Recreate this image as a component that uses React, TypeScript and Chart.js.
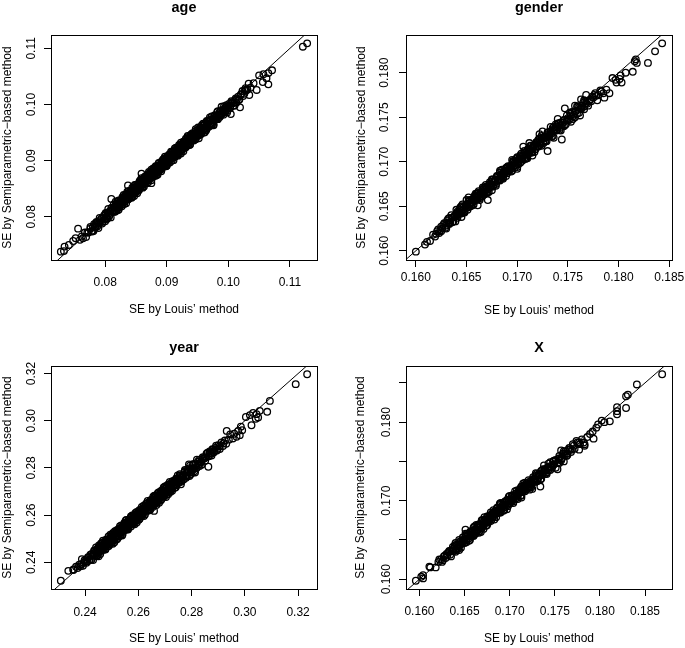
import React, { useEffect, useRef } from 'react';
import { Chart, registerables } from 'chart.js';

Chart.register(...registerables);

const FONT = '"Liberation Sans", Arial, Helvetica, sans-serif';
Chart.defaults.font.family = FONT;
Chart.defaults.font.size = 12;
Chart.defaults.color = '#000';

// ---------- data (SE by Louis' method, SE by Semiparametric-based method) ----------
const AGE_POINTS: number[][] = [
  [0.0728,0.0738],[0.0733,0.0739],[0.0734,0.0747],[0.0741,0.0750],[0.0748,0.0757],[0.0752,0.0762],[0.0756,0.0779],[0.0759,0.0759],
  [0.0762,0.0765],[0.0764,0.0762],[0.0767,0.0772],[0.0769,0.0764],[0.0771,0.0772],[0.0773,0.0772],[0.0776,0.0782],[0.0778,0.0775],[0.0780,0.0782],[0.0781,0.0775],[0.0783,0.0783],[0.0785,0.0789],[0.0787,0.0783],[0.0788,0.0790],[0.0790,0.0789],
  [0.0791,0.0798],[0.0793,0.0791],[0.0794,0.0797],[0.0796,0.0791],[0.0797,0.0798],[0.0799,0.0796],[0.0800,0.0805],[0.0802,0.0801],[0.0803,0.0796],[0.0804,0.0808],[0.0806,0.0806],[0.0807,0.0803],[0.0809,0.0811],[0.0810,0.0816],[0.0812,0.0810],[0.0813,0.0814],[0.0814,0.0809],[0.0816,0.0819],[0.0817,0.0816],[0.0818,0.0823],[0.0820,0.0817],[0.0821,0.0821],[0.0823,0.0817],[0.0824,0.0826],[0.0825,0.0829],[0.0827,0.0830],[0.0828,0.0826],[0.0829,0.0834],[0.0831,0.0826],[0.0832,0.0833],[0.0833,0.0832],[0.0835,0.0841],[0.0836,0.0833],[0.0837,0.0839],[0.0839,0.0833],
  [0.0789,0.0780],[0.0810,0.0832],[0.0837,0.0856],[0.0859,0.0877],[0.0875,0.0860],
  [0.0840,0.0840],[0.0841,0.0845],[0.0842,0.0838],[0.0843,0.0845],[0.0845,0.0844],[0.0846,0.0853],[0.0847,0.0845],[0.0848,0.0851],[0.0849,0.0844],[0.0850,0.0851],[0.0851,0.0848],[0.0853,0.0858],[0.0854,0.0853],[0.0855,0.0848],[0.0856,0.0860],[0.0857,0.0857],[0.0858,0.0854],[0.0860,0.0862],[0.0861,0.0867],[0.0862,0.0860],[0.0863,0.0864],[0.0864,0.0859],[0.0866,0.0869],[0.0867,0.0866],[0.0868,0.0873],[0.0869,0.0866],[0.0870,0.0870],[0.0871,0.0865],[0.0873,0.0875],[0.0874,0.0878],
  [0.0875,0.0878],[0.0876,0.0874],[0.0877,0.0882],[0.0878,0.0873],[0.0879,0.0880],[0.0881,0.0880],[0.0882,0.0888],[0.0883,0.0880],[0.0884,0.0886],[0.0885,0.0879],[0.0886,0.0886],[0.0887,0.0891],[0.0889,0.0885],[0.0890,0.0892],[0.0891,0.0890],[0.0892,0.0899],[0.0893,0.0891],[0.0894,0.0897],[0.0895,0.0890],[0.0897,0.0898],[0.0898,0.0895],[0.0899,0.0904],[0.0900,0.0899],[0.0901,0.0894],[0.0902,0.0906],[0.0903,0.0903],[0.0904,0.0900],[0.0906,0.0908],[0.0907,0.0913],[0.0908,0.0906],
  [0.0909,0.0910],[0.0910,0.0905],[0.0911,0.0914],[0.0912,0.0911],[0.0914,0.0919],[0.0915,0.0912],[0.0916,0.0916],[0.0917,0.0911],[0.0918,0.0920],[0.0919,0.0923],[0.0920,0.0923],[0.0922,0.0920],[0.0923,0.0928],[0.0924,0.0919],[0.0925,0.0926],[0.0926,0.0925],[0.0927,0.0933],[0.0928,0.0925],[0.0930,0.0932],[0.0931,0.0925],[0.0932,0.0932],[0.0933,0.0937],[0.0934,0.0930],[0.0935,0.0937],[0.0937,0.0936],[0.0938,0.0945],[0.0939,0.0937],[0.0940,0.0943],[0.0941,0.0936],[0.0942,0.0943],
  [0.0944,0.0939],[0.0945,0.0948],[0.0946,0.0943],[0.0947,0.0938],[0.0948,0.0950],[0.0950,0.0948],[0.0951,0.0945],[0.0952,0.0952],[0.0953,0.0957],[0.0955,0.0951],[0.0956,0.0955],[0.0957,0.0950],[0.0958,0.0959],[0.0960,0.0957],[0.0961,0.0964],[0.0962,0.0957],[0.0964,0.0962],[0.0965,0.0957],[0.0966,0.0966],[0.0968,0.0970],[0.0969,0.0970],
  [0.0971,0.0966],[0.0972,0.0974],[0.0974,0.0966],[0.0975,0.0973],[0.0977,0.0973],[0.0978,0.0981],[0.0980,0.0974],[0.0981,0.0980],[0.0983,0.0974],[0.0985,0.0982],[0.0986,0.0987],[0.0988,0.0981],[0.0990,0.0989],[0.0991,0.0987],[0.0993,0.0997],[0.0995,0.0989],[0.0997,0.0996],[0.0999,0.0990],[0.1001,0.0998],[0.1003,0.0996],[0.1005,0.1006],[0.1007,0.1002],[0.1010,0.0998],[0.1012,0.1011],[0.1014,0.1009],[0.1017,0.1008],[0.1020,0.1017],[0.1023,0.1024],[0.1026,0.1019],[0.1029,0.1025],
  [0.1004,0.0983],[0.1019,0.0995],[0.1028,0.1029],[0.1031,0.1027],[0.1033,0.1037],[0.1034,0.1017],[0.1036,0.1030],[0.1041,0.1038],[0.1046,0.1026],[0.1050,0.1052],[0.1056,0.1040],[0.1057,0.1054],[0.1062,0.1047],[0.1065,0.1056],[0.1065,0.1036],[0.1071,0.1061],[0.1121,0.1103],[0.1128,0.1109],
];

const AGE_POINTS_B: number[][] = [
  [0.0800,0.0792],[0.0801,0.0807],[0.0803,0.0800],[0.0805,0.0814],[0.0806,0.0800],[0.0808,0.0810],[0.0809,0.0799],[0.0811,0.0816],[0.0812,0.0811],[0.0814,0.0822],[0.0815,0.0810],[0.0817,0.0827],[0.0818,0.0811],[0.0819,0.0822],[0.0821,0.0812],[0.0822,0.0829],[0.0824,0.0822],[0.0825,0.0829],[0.0827,0.0819],[0.0828,0.0829],[0.0830,0.0839],[0.0831,0.0827],[0.0833,0.0839],[0.0834,0.0824],[0.0836,0.0838],[0.0837,0.0831],[0.0838,0.0846],[0.0840,0.0837],[0.0841,0.0846],[0.0843,0.0834],
  [0.0844,0.0836],[0.0846,0.0852],[0.0847,0.0844],[0.0848,0.0857],[0.0850,0.0844],[0.0851,0.0853],[0.0852,0.0842],[0.0854,0.0859],[0.0855,0.0854],[0.0856,0.0864],[0.0858,0.0853],[0.0859,0.0869],[0.0860,0.0853],[0.0862,0.0865],[0.0863,0.0854],[0.0864,0.0871],[0.0866,0.0864],[0.0867,0.0871],[0.0868,0.0860],[0.0869,0.0870],[0.0871,0.0880],[0.0872,0.0868],[0.0873,0.0879],[0.0875,0.0865],[0.0876,0.0878],[0.0877,0.0871],[0.0878,0.0886],[0.0880,0.0877],[0.0881,0.0886],[0.0882,0.0873],
  [0.0883,0.0875],[0.0885,0.0891],[0.0886,0.0883],[0.0887,0.0896],[0.0888,0.0882],[0.0889,0.0891],[0.0891,0.0881],[0.0892,0.0897],[0.0893,0.0892],[0.0894,0.0902],[0.0895,0.0890],[0.0897,0.0907],[0.0898,0.0891],[0.0899,0.0902],[0.0900,0.0891],[0.0901,0.0908],[0.0903,0.0901],[0.0904,0.0908],[0.0905,0.0897],[0.0906,0.0907],[0.0907,0.0916],[0.0909,0.0905],[0.0910,0.0916],[0.0911,0.0901],[0.0912,0.0914],[0.0913,0.0907],[0.0915,0.0923],[0.0916,0.0913],[0.0917,0.0922],[0.0918,0.0909],
  [0.0920,0.0912],[0.0921,0.0927],[0.0922,0.0919],[0.0923,0.0932],[0.0925,0.0919],[0.0926,0.0928],[0.0927,0.0917],[0.0929,0.0934],[0.0930,0.0929],[0.0931,0.0939],[0.0933,0.0928],[0.0934,0.0944],[0.0935,0.0928],[0.0937,0.0940],[0.0938,0.0929],[0.0940,0.0947],[0.0941,0.0939],[0.0943,0.0947],[0.0944,0.0936],[0.0946,0.0947],[0.0947,0.0956],[0.0949,0.0945],[0.0950,0.0954],[0.0952,0.0940],[0.0954,0.0954],[0.0955,0.0947],[0.0957,0.0963],[0.0959,0.0954],[0.0960,0.0963],[0.0962,0.0951],
  [0.0964,0.0954],[0.0966,0.0970],[0.0968,0.0963],[0.0970,0.0977],[0.0972,0.0964],[0.0974,0.0974],[0.0976,0.0963],[0.0978,0.0980],[0.0980,0.0976],[0.0983,0.0988],[0.0986,0.0978],[0.0989,0.0996],[0.0992,0.0982],[0.0995,0.0995],[0.0998,0.0986],
];

const AGE_POINTS_C: number[][] = [
  [0.0815,0.0817],[0.0816,0.0809],[0.0817,0.0822],[0.0819,0.0816],[0.0820,0.0828],[0.0821,0.0820],[0.0822,0.0813],[0.0824,0.0828],[0.0825,0.0825],[0.0826,0.0821],[0.0828,0.0835],[0.0829,0.0827],[0.0830,0.0833],[0.0831,0.0823],[0.0833,0.0839],[0.0834,0.0835],[0.0835,0.0831],[0.0836,0.0845],[0.0838,0.0832],[0.0839,0.0838],
  [0.0840,0.0845],[0.0842,0.0835],[0.0843,0.0845],[0.0844,0.0852],[0.0845,0.0842],[0.0847,0.0837],[0.0848,0.0852],[0.0849,0.0847],[0.0850,0.0857],[0.0852,0.0847],[0.0853,0.0855],[0.0854,0.0847],[0.0856,0.0861],[0.0857,0.0854],[0.0858,0.0866],[0.0859,0.0858],[0.0861,0.0852],[0.0862,0.0866],[0.0863,0.0863],[0.0864,0.0859],
  [0.0866,0.0873],[0.0867,0.0865],[0.0868,0.0871],[0.0870,0.0862],[0.0871,0.0877],[0.0872,0.0873],[0.0873,0.0869],[0.0875,0.0884],[0.0876,0.0870],[0.0877,0.0876],[0.0878,0.0883],[0.0880,0.0873],[0.0881,0.0883],[0.0882,0.0890],[0.0884,0.0881],[0.0885,0.0875],[0.0886,0.0890],[0.0887,0.0885],[0.0889,0.0896],[0.0890,0.0885],
  [0.0891,0.0893],[0.0892,0.0885],[0.0894,0.0899],[0.0895,0.0892],[0.0896,0.0904],[0.0898,0.0897],[0.0899,0.0890],[0.0900,0.0904],[0.0901,0.0901],[0.0903,0.0898],[0.0904,0.0911],[0.0905,0.0903],[0.0906,0.0909],[0.0908,0.0900],[0.0909,0.0915],[0.0910,0.0911],[0.0912,0.0908],[0.0913,0.0922],[0.0914,0.0908],[0.0915,0.0914],
  [0.0917,0.0922],[0.0918,0.0911],[0.0919,0.0921],[0.0920,0.0928],[0.0922,0.0919],[0.0923,0.0913],[0.0924,0.0928],[0.0926,0.0924],[0.0927,0.0934],[0.0928,0.0923],[0.0929,0.0931],[0.0931,0.0924],[0.0932,0.0937],[0.0933,0.0930],[0.0934,0.0942],[0.0936,0.0935],[0.0937,0.0928],[0.0938,0.0942],[0.0940,0.0940],[0.0941,0.0936],
  [0.0942,0.0949],[0.0943,0.0941],[0.0945,0.0948],[0.0946,0.0938],[0.0947,0.0953],[0.0948,0.0949],[0.0950,0.0945],[0.0951,0.0959],[0.0952,0.0945],[0.0954,0.0952],[0.0955,0.0959],[0.0956,0.0948],[0.0957,0.0958],[0.0959,0.0966],[0.0960,0.0956],[0.0961,0.0950],[0.0962,0.0965],[0.0964,0.0961],[0.0965,0.0971],[0.0966,0.0960],
  [0.0968,0.0969],[0.0969,0.0961],[0.0970,0.0973],[0.0972,0.0967],[0.0973,0.0979],[0.0975,0.0972],[0.0976,0.0965],[0.0978,0.0980],[0.0979,0.0977],[0.0981,0.0974],[0.0982,0.0987],[0.0984,0.0980],
];

const AGE_POINTS_D: number[][] = [
  [0.0986,0.0983],[0.0988,0.0990],[0.0990,0.0984],[0.0993,0.0991],[0.0995,0.0986],[0.0997,0.0999],[0.0999,0.0993],[0.1001,0.1001],[0.1003,0.0994],[0.1006,0.1004],[0.1008,0.0998],[0.1011,0.1008],[0.1013,0.1003],[0.1016,0.1014],[0.1018,0.1009],[0.1021,0.1019],[0.1024,0.1015],[0.1027,0.1026],
  [0.0776,0.0779],[0.0779,0.0774],[0.0782,0.0787],[0.0784,0.0781],[0.0786,0.0791],[0.0789,0.0786],[0.0792,0.0794],[0.0795,0.0788],[0.0798,0.0802],[0.0801,0.0797],
];

const GENDER_POINTS: number[][] = [
  [0.1600,0.1599],[0.1609,0.1607],[0.1611,0.1610],[0.1614,0.1611],[0.1617,0.1618],[0.1619,0.1616],[0.1621,0.1622],[0.1623,0.1620],[0.1624,0.1623],
  [0.1625,0.1627],[0.1626,0.1625],[0.1628,0.1631],[0.1629,0.1626],[0.1630,0.1631],[0.1632,0.1631],[0.1633,0.1637],[0.1634,0.1632],[0.1636,0.1637],[0.1637,0.1633],[0.1638,0.1638],[0.1640,0.1642],[0.1641,0.1639],[0.1642,0.1643],[0.1643,0.1642],[0.1645,0.1649],[0.1646,0.1645],[0.1647,0.1649],[0.1648,0.1645],[0.1650,0.1651],
  [0.1651,0.1649],[0.1652,0.1655],[0.1653,0.1652],[0.1654,0.1650],[0.1655,0.1657],[0.1657,0.1657],[0.1658,0.1656],[0.1659,0.1660],[0.1660,0.1664],[0.1661,0.1660],[0.1662,0.1663],[0.1664,0.1661],[0.1665,0.1667],[0.1666,0.1665],[0.1667,0.1670],[0.1667,0.1665],[0.1668,0.1668],[0.1669,0.1665],[0.1670,0.1671],[0.1672,0.1674],[0.1673,0.1675],[0.1674,0.1673],[0.1675,0.1678],[0.1676,0.1673],[0.1677,0.1678],[0.1678,0.1677],[0.1680,0.1684],[0.1681,0.1679],[0.1682,0.1683],[0.1683,0.1679],[0.1684,0.1684],[0.1684,0.1686],[0.1685,0.1683],[0.1686,0.1687],[0.1687,0.1686],[0.1689,0.1693],[0.1690,0.1689],[0.1691,0.1693],[0.1692,0.1689],[0.1693,0.1694],[0.1694,0.1692],[0.1696,0.1699],[0.1697,0.1696],[0.1698,0.1694],[0.1699,0.1701],[0.1700,0.1700],
  [0.1701,0.1699],[0.1702,0.1703],[0.1703,0.1707],[0.1704,0.1703],[0.1706,0.1707],[0.1707,0.1704],[0.1708,0.1710],[0.1709,0.1708],[0.1710,0.1713],[0.1711,0.1709],[0.1713,0.1713],[0.1714,0.1710],[0.1715,0.1716],[0.1716,0.1718],[0.1717,0.1719],[0.1718,0.1717],[0.1720,0.1722],[0.1721,0.1717],[0.1722,0.1722],[0.1723,0.1721],[0.1724,0.1727],[0.1726,0.1723],[0.1727,0.1727],[0.1728,0.1723],[0.1729,0.1728],[0.1730,0.1731],[0.1732,0.1729],[0.1733,0.1733],[0.1734,0.1732],[0.1735,0.1738],[0.1737,0.1735],[0.1738,0.1739],[0.1739,0.1735],[0.1740,0.1739],[0.1742,0.1738],[0.1743,0.1744],[0.1744,0.1741],[0.1746,0.1740],[0.1747,0.1747],[0.1749,0.1747],
  [0.1751,0.1747],[0.1753,0.1752],[0.1754,0.1756],[0.1756,0.1753],[0.1758,0.1757],[0.1759,0.1754],[0.1761,0.1761],[0.1763,0.1760],[0.1765,0.1766],[0.1766,0.1762],[0.1768,0.1766],[0.1770,0.1763],[0.1772,0.1770],[0.1774,0.1773],[0.1776,0.1775],[0.1778,0.1774],
  [0.1640,0.1646],[0.1645,0.1638],[0.1650,0.1657],[0.1652,0.1660],[0.1661,0.1651],[0.1671,0.1657],[0.1675,0.1668],[0.1683,0.1690],[0.1695,0.1702],[0.1700,0.1692],[0.1706,0.1717],[0.1712,0.1721],[0.1715,0.1707],[0.1722,0.1731],[0.1725,0.1734],[0.1730,0.1712],[0.1733,0.1739],[0.1736,0.1727],[0.1740,0.1748],[0.1744,0.1725],[0.1747,0.1760],[0.1753,0.1745],[0.1757,0.1763],[0.1762,0.1752],[0.1763,0.1770],[0.1768,0.1775],
  [0.1779,0.1769],[0.1783,0.1779],[0.1785,0.1777],[0.1786,0.1772],[0.1788,0.1781],[0.1791,0.1777],[0.1794,0.1794],[0.1797,0.1792],[0.1798,0.1789],[0.1801,0.1793],[0.1802,0.1797],[0.1803,0.1789],[0.1807,0.1800],[0.1814,0.1801],[0.1816,0.1813],[0.1817,0.1815],[0.1818,0.1811],[0.1829,0.1811],[0.1836,0.1824],[0.1843,0.1833],
];

const GENDER_POINTS_B: number[][] = [
  [0.1630,0.1625],[0.1632,0.1636],[0.1633,0.1631],[0.1635,0.1640],[0.1636,0.1632],[0.1638,0.1639],[0.1639,0.1633],[0.1641,0.1644],[0.1642,0.1641],[0.1644,0.1649],[0.1645,0.1642],[0.1646,0.1652],[0.1648,0.1644],[0.1649,0.1651],[0.1651,0.1646],[0.1652,0.1656],[0.1653,0.1652],[0.1655,0.1657],[0.1656,0.1651],[0.1657,0.1658],
  [0.1659,0.1664],[0.1660,0.1658],[0.1661,0.1665],[0.1663,0.1657],[0.1664,0.1665],[0.1665,0.1661],[0.1666,0.1671],[0.1668,0.1666],[0.1669,0.1672],[0.1670,0.1665],[0.1671,0.1666],[0.1673,0.1677],[0.1674,0.1672],[0.1675,0.1680],[0.1676,0.1672],[0.1678,0.1679],[0.1679,0.1673],[0.1680,0.1683],[0.1681,0.1680],[0.1683,0.1688],
  [0.1684,0.1681],[0.1685,0.1691],[0.1686,0.1682],[0.1688,0.1690],[0.1689,0.1684],[0.1690,0.1694],[0.1691,0.1690],[0.1693,0.1695],[0.1694,0.1689],[0.1695,0.1696],[0.1696,0.1701],[0.1698,0.1696],[0.1699,0.1703],[0.1700,0.1694],[0.1702,0.1703],[0.1703,0.1699],[0.1704,0.1709],[0.1705,0.1703],[0.1707,0.1710],[0.1708,0.1703],
  [0.1709,0.1704],[0.1711,0.1715],[0.1712,0.1710],[0.1713,0.1718],[0.1715,0.1711],[0.1716,0.1717],[0.1717,0.1711],[0.1719,0.1722],[0.1720,0.1718],[0.1721,0.1725],[0.1723,0.1719],[0.1724,0.1729],[0.1726,0.1721],[0.1727,0.1728],[0.1729,0.1723],[0.1730,0.1733],[0.1732,0.1730],[0.1733,0.1734],[0.1735,0.1729],[0.1736,0.1736],
  [0.1738,0.1742],[0.1739,0.1736],[0.1741,0.1743],[0.1743,0.1735],[0.1745,0.1744],[0.1747,0.1741],[0.1749,0.1752],[0.1751,0.1747],[0.1753,0.1754],[0.1755,0.1748],[0.1757,0.1750],[0.1760,0.1762],[0.1763,0.1759],[0.1766,0.1769],
];

const GENDER_POINTS_C: number[][] = [
  [0.1640,0.1641],[0.1641,0.1637],[0.1643,0.1646],[0.1644,0.1642],[0.1645,0.1650],[0.1647,0.1646],[0.1648,0.1643],[0.1649,0.1651],[0.1650,0.1650],[0.1652,0.1649],[0.1653,0.1657],[0.1654,0.1653],[0.1656,0.1658],[0.1657,0.1652],[0.1658,0.1662],[0.1659,0.1660],[0.1661,0.1659],[0.1662,0.1667],[0.1663,0.1659],[0.1664,0.1663],
  [0.1666,0.1669],[0.1667,0.1663],[0.1668,0.1669],[0.1669,0.1674],[0.1671,0.1669],[0.1672,0.1666],[0.1673,0.1675],[0.1674,0.1673],[0.1676,0.1680],[0.1677,0.1674],[0.1678,0.1679],[0.1679,0.1675],[0.1681,0.1684],[0.1682,0.1680],[0.1683,0.1688],[0.1685,0.1684],[0.1686,0.1681],[0.1687,0.1689],[0.1688,0.1688],[0.1690,0.1687],
  [0.1691,0.1695],[0.1692,0.1691],[0.1693,0.1695],[0.1695,0.1690],[0.1696,0.1700],[0.1697,0.1698],[0.1698,0.1696],[0.1700,0.1705],[0.1701,0.1697],[0.1702,0.1701],[0.1703,0.1706],[0.1705,0.1701],[0.1706,0.1707],[0.1707,0.1712],[0.1709,0.1707],[0.1710,0.1704],[0.1711,0.1713],[0.1712,0.1711],[0.1714,0.1718],[0.1715,0.1712],
  [0.1716,0.1717],[0.1718,0.1714],[0.1719,0.1722],[0.1720,0.1717],[0.1722,0.1726],[0.1723,0.1721],[0.1724,0.1718],[0.1726,0.1727],[0.1727,0.1726],[0.1728,0.1724],[0.1730,0.1733],[0.1731,0.1729],[0.1733,0.1734],[0.1734,0.1728],[0.1736,0.1739],[0.1737,0.1737],[0.1739,0.1736],[0.1740,0.1743],[0.1742,0.1736],[0.1744,0.1741],
  [0.1746,0.1747],[0.1748,0.1742],[0.1750,0.1749],[0.1752,0.1755],[0.1755,0.1751],
];

const GENDER_POINTS_D: number[][] = [
  [0.1757,0.1756],[0.1759,0.1762],[0.1761,0.1755],[0.1762,0.1760],[0.1764,0.1763],[0.1766,0.1759],[0.1767,0.1768],[0.1769,0.1765],[0.1771,0.1768],[0.1773,0.1768],[0.1775,0.1772],[0.1777,0.1777],[0.1780,0.1775],[0.1782,0.1780],
  [0.1620,0.1619],[0.1622,0.1624],[0.1625,0.1622],[0.1627,0.1629],[0.1629,0.1628],[0.1631,0.1634],[0.1633,0.1630],[0.1635,0.1637],
];

const YEAR_POINTS: number[][] = [
  [0.2309,0.2322],[0.2337,0.2364],[0.2356,0.2370],[0.2356,0.2367],[0.2366,0.2381],[0.2372,0.2376],[0.2378,0.2390],[0.2383,0.2383],[0.2388,0.2413],[0.2395,0.2398],[0.2400,0.2403],[0.2404,0.2412],[0.2409,0.2404],
  [0.2412,0.2419],[0.2416,0.2411],[0.2420,0.2432],[0.2424,0.2412],[0.2428,0.2430],[0.2431,0.2429],[0.2435,0.2450],[0.2438,0.2431],[0.2442,0.2447],[0.2446,0.2431],[0.2449,0.2449],
  [0.2452,0.2462],[0.2455,0.2445],[0.2458,0.2463],[0.2461,0.2459],[0.2463,0.2480],[0.2466,0.2461],[0.2469,0.2476],[0.2472,0.2460],[0.2474,0.2476],[0.2477,0.2470],[0.2480,0.2492],[0.2483,0.2481],[0.2485,0.2468],[0.2488,0.2498],[0.2491,0.2491],[0.2494,0.2484],[0.2496,0.2501],[0.2499,0.2514],[0.2502,0.2497],[0.2505,0.2507],[0.2507,0.2495],[0.2510,0.2517],[0.2513,0.2511],[0.2516,0.2528],[0.2518,0.2511],[0.2521,0.2521],[0.2524,0.2509],[0.2527,0.2532],[0.2529,0.2539],[0.2532,0.2539],[0.2535,0.2530],[0.2538,0.2550],[0.2540,0.2528],[0.2543,0.2545],[0.2546,0.2544],[0.2549,0.2564],[0.2551,0.2544],[0.2554,0.2559],[0.2557,0.2542],[0.2560,0.2560],[0.2562,0.2572],[0.2565,0.2555],[0.2568,0.2573],[0.2571,0.2569],[0.2573,0.2590],[0.2576,0.2571],[0.2579,0.2586],[0.2582,0.2570],[0.2584,0.2586],[0.2587,0.2580],[0.2590,0.2602],[0.2593,0.2591],[0.2595,0.2578],[0.2598,0.2608],
  [0.2600,0.2600],[0.2603,0.2593],[0.2606,0.2611],[0.2608,0.2623],[0.2611,0.2606],[0.2614,0.2616],[0.2617,0.2605],[0.2619,0.2626],[0.2622,0.2620],[0.2625,0.2637],[0.2628,0.2621],[0.2630,0.2630],[0.2633,0.2618],[0.2636,0.2641],[0.2639,0.2649],[0.2641,0.2648],[0.2644,0.2639],[0.2647,0.2659],[0.2650,0.2638],[0.2652,0.2654],[0.2655,0.2653],[0.2658,0.2673],[0.2661,0.2654],[0.2663,0.2668],[0.2666,0.2651],[0.2669,0.2669],[0.2672,0.2682],[0.2674,0.2664],[0.2677,0.2682],[0.2680,0.2678],[0.2683,0.2700],[0.2685,0.2680],[0.2688,0.2695],[0.2691,0.2679],[0.2694,0.2696],[0.2696,0.2689],[0.2699,0.2711],[0.2702,0.2698],[0.2705,0.2686],[0.2707,0.2715],[0.2710,0.2708],[0.2713,0.2701],[0.2716,0.2719],[0.2718,0.2731],[0.2721,0.2714],[0.2724,0.2724],[0.2727,0.2713],[0.2729,0.2734],[0.2732,0.2728],[0.2735,0.2745],[0.2738,0.2729],[0.2740,0.2738],[0.2743,0.2726],[0.2746,0.2749],[0.2749,0.2757],
  [0.2752,0.2755],[0.2756,0.2747],[0.2760,0.2768],[0.2763,0.2747],[0.2767,0.2765],[0.2771,0.2765],[0.2774,0.2785],[0.2778,0.2767],[0.2782,0.2783],[0.2785,0.2766],[0.2789,0.2785],[0.2793,0.2799],[0.2796,0.2782],[0.2800,0.2798],[0.2804,0.2795],[0.2807,0.2817],[0.2811,0.2799],[0.2815,0.2815],[0.2819,0.2800],[0.2822,0.2817],[0.2826,0.2812],[0.2830,0.2835],[0.2834,0.2825],[0.2838,0.2814],[0.2842,0.2845],[0.2846,0.2839],[0.2851,0.2831],[0.2855,0.2850],[0.2860,0.2865],[0.2865,0.2850],[0.2870,0.2862],[0.2875,0.2853],[0.2880,0.2877],[0.2886,0.2874],[0.2892,0.2894],[0.2898,0.2881],
  [0.2555,0.2580],[0.2659,0.2618],[0.2700,0.2722],[0.2720,0.2698],[0.2790,0.2815],[0.2810,0.2786],[0.2863,0.2805],[0.2879,0.2868],[0.2905,0.2892],[0.2920,0.2905],[0.2932,0.2957],[0.2940,0.2920],[0.2945,0.2942],[0.2955,0.2925],[0.2960,0.2945],[0.2969,0.2932],[0.2975,0.2957],[0.2981,0.2939],[0.2985,0.2975],[0.2990,0.2960],[0.3004,0.3016],[0.3019,0.3024],[0.3025,0.2981],[0.3031,0.3033],[0.3041,0.3008],[0.3044,0.3028],[0.3050,0.3014],[0.3056,0.3042],[0.3084,0.3038],[0.3094,0.3084],[0.3191,0.3155],[0.3234,0.3197],
];

const YEAR_POINTS_B: number[][] = [
  [0.2430,0.2410],[0.2434,0.2449],[0.2437,0.2430],[0.2441,0.2463],[0.2444,0.2429],[0.2447,0.2452],[0.2451,0.2426],[0.2454,0.2466],[0.2457,0.2455],[0.2460,0.2480],[0.2464,0.2452],[0.2467,0.2492],[0.2470,0.2453],[0.2473,0.2480],[0.2476,0.2454],[0.2479,0.2496],[0.2482,0.2477],[0.2486,0.2496],[0.2489,0.2469],[0.2492,0.2494],
  [0.2495,0.2517],[0.2498,0.2488],[0.2501,0.2516],[0.2504,0.2479],[0.2506,0.2511],[0.2509,0.2494],[0.2512,0.2532],[0.2515,0.2508],[0.2518,0.2530],[0.2520,0.2498],[0.2523,0.2503],[0.2526,0.2541],[0.2529,0.2522],[0.2531,0.2553],[0.2534,0.2519],[0.2537,0.2542],[0.2539,0.2514],[0.2542,0.2554],[0.2545,0.2543],[0.2548,0.2568],
  [0.2550,0.2538],[0.2553,0.2578],[0.2556,0.2539],[0.2558,0.2565],[0.2561,0.2539],[0.2564,0.2581],[0.2567,0.2562],[0.2569,0.2579],[0.2572,0.2552],[0.2575,0.2577],[0.2577,0.2599],[0.2580,0.2570],[0.2583,0.2598],[0.2586,0.2561],[0.2588,0.2593],[0.2591,0.2576],[0.2594,0.2614],[0.2597,0.2590],[0.2599,0.2611],[0.2602,0.2580],
  [0.2605,0.2585],[0.2607,0.2622],[0.2610,0.2603],[0.2613,0.2635],[0.2616,0.2601],[0.2618,0.2623],[0.2621,0.2596],[0.2624,0.2636],[0.2627,0.2625],[0.2629,0.2649],[0.2632,0.2620],[0.2635,0.2660],[0.2638,0.2621],[0.2640,0.2647],[0.2643,0.2621],[0.2646,0.2663],[0.2649,0.2644],[0.2651,0.2661],[0.2654,0.2634],[0.2657,0.2659],
  [0.2660,0.2682],[0.2662,0.2652],[0.2665,0.2680],[0.2668,0.2643],[0.2671,0.2676],[0.2673,0.2658],[0.2676,0.2696],[0.2679,0.2672],[0.2682,0.2694],[0.2684,0.2662],[0.2687,0.2667],[0.2690,0.2705],[0.2693,0.2686],[0.2695,0.2717],[0.2698,0.2683],[0.2701,0.2704],[0.2704,0.2677],[0.2706,0.2716],[0.2709,0.2705],[0.2712,0.2730],
  [0.2715,0.2701],[0.2718,0.2741],[0.2721,0.2702],[0.2724,0.2729],[0.2727,0.2703],[0.2730,0.2745],[0.2734,0.2727],[0.2737,0.2745],[0.2741,0.2719],[0.2744,0.2744],[0.2748,0.2768],[0.2752,0.2738],[0.2756,0.2767],[0.2760,0.2731],[0.2765,0.2766],[0.2770,0.2751],[0.2775,0.2791],[0.2780,0.2769],[0.2786,0.2794],[0.2792,0.2766],
  [0.2798,0.2774],[0.2805,0.2813],[0.2812,0.2798],[0.2820,0.2835],[0.2830,0.2808],[0.2840,0.2838],
];

const YEAR_POINTS_C: number[][] = [
  [0.2440,0.2445],[0.2443,0.2426],[0.2446,0.2458],[0.2449,0.2442],[0.2452,0.2472],[0.2454,0.2452],[0.2457,0.2435],[0.2460,0.2470],[0.2463,0.2463],[0.2466,0.2454],[0.2468,0.2485],[0.2471,0.2466],[0.2474,0.2481],[0.2477,0.2457],[0.2480,0.2495],[0.2482,0.2484],[0.2485,0.2475],[0.2488,0.2510],[0.2491,0.2476],[0.2494,0.2492],
  [0.2496,0.2508],[0.2499,0.2482],[0.2502,0.2507],[0.2505,0.2525],[0.2508,0.2501],[0.2510,0.2485],[0.2513,0.2523],[0.2516,0.2511],[0.2519,0.2536],[0.2522,0.2510],[0.2524,0.2529],[0.2527,0.2510],[0.2530,0.2542],[0.2533,0.2526],[0.2536,0.2556],[0.2538,0.2536],[0.2541,0.2519],[0.2544,0.2554],[0.2547,0.2547],[0.2550,0.2538],
  [0.2552,0.2569],[0.2555,0.2550],[0.2558,0.2565],[0.2561,0.2541],[0.2564,0.2579],[0.2566,0.2568],[0.2569,0.2559],[0.2572,0.2594],[0.2575,0.2560],[0.2578,0.2576],[0.2580,0.2592],[0.2583,0.2566],[0.2586,0.2591],[0.2589,0.2609],[0.2592,0.2585],[0.2594,0.2569],[0.2597,0.2607],[0.2600,0.2595],[0.2603,0.2620],[0.2606,0.2594],
  [0.2608,0.2613],[0.2611,0.2594],[0.2614,0.2626],[0.2617,0.2610],[0.2620,0.2640],[0.2622,0.2620],[0.2625,0.2603],[0.2628,0.2638],[0.2631,0.2631],[0.2634,0.2622],[0.2636,0.2653],[0.2639,0.2634],[0.2642,0.2649],[0.2645,0.2625],[0.2648,0.2663],[0.2650,0.2652],[0.2653,0.2643],[0.2656,0.2678],[0.2659,0.2644],[0.2662,0.2660],
  [0.2664,0.2676],[0.2667,0.2650],[0.2670,0.2675],[0.2673,0.2693],[0.2676,0.2669],[0.2678,0.2653],[0.2681,0.2691],[0.2684,0.2679],[0.2687,0.2704],[0.2690,0.2678],[0.2693,0.2698],[0.2696,0.2679],[0.2699,0.2711],[0.2702,0.2693],[0.2706,0.2724],[0.2709,0.2705],[0.2712,0.2688],[0.2716,0.2724],[0.2719,0.2717],[0.2723,0.2709],
  [0.2726,0.2741],[0.2730,0.2723],[0.2734,0.2739],[0.2738,0.2716],[0.2742,0.2755],[0.2746,0.2746],[0.2751,0.2737],[0.2756,0.2774],[0.2761,0.2742],[0.2767,0.2761],[0.2773,0.2781],[0.2779,0.2758],[0.2786,0.2787],[0.2794,0.2810],[0.2803,0.2789],[0.2813,0.2781],[0.2824,0.2827],[0.2836,0.2824],
];

const YEAR_POINTS_D: number[][] = [
  [0.2850,0.2842],[0.2856,0.2860],[0.2862,0.2848],[0.2868,0.2870],[0.2874,0.2860],[0.2878,0.2879],[0.2884,0.2866],[0.2889,0.2885],[0.2895,0.2874],[0.2900,0.2896],[0.2906,0.2880],[0.2912,0.2908],[0.2918,0.2893],[0.2925,0.2916],[0.2930,0.2902],
  [0.2385,0.2392],[0.2392,0.2385],[0.2398,0.2409],[0.2405,0.2398],[0.2411,0.2422],[0.2418,0.2410],[0.2425,0.2436],
];

const X_POINTS: number[][] = [
  [0.1596,0.1598],[0.1602,0.1603],[0.1604,0.1605],[0.1604,0.1601],[0.1611,0.1616],[0.1612,0.1615],[0.1618,0.1615],[0.1621,0.1622],[0.1624,0.1625],[0.1626,0.1624],[0.1628,0.1630],
  [0.1630,0.1632],[0.1631,0.1630],[0.1633,0.1636],[0.1634,0.1631],[0.1636,0.1637],[0.1637,0.1636],[0.1639,0.1643],[0.1640,0.1638],[0.1641,0.1642],[0.1643,0.1639],[0.1644,0.1644],[0.1646,0.1648],[0.1647,0.1645],[0.1649,0.1650],[0.1650,0.1649],
  [0.1651,0.1655],[0.1652,0.1651],[0.1653,0.1655],[0.1655,0.1652],[0.1656,0.1657],[0.1657,0.1655],[0.1658,0.1661],[0.1659,0.1658],[0.1660,0.1656],[0.1662,0.1664],[0.1663,0.1663],[0.1664,0.1662],[0.1665,0.1666],[0.1666,0.1670],[0.1667,0.1666],[0.1668,0.1669],[0.1670,0.1667],[0.1671,0.1673],[0.1672,0.1671],[0.1673,0.1676],[0.1674,0.1672],[0.1675,0.1675],[0.1676,0.1672],[0.1677,0.1678],[0.1679,0.1681],[0.1680,0.1682],[0.1681,0.1680],[0.1682,0.1685],[0.1683,0.1680],[0.1684,0.1685],[0.1685,0.1684],[0.1686,0.1690],[0.1688,0.1686],[0.1689,0.1690],[0.1690,0.1686],[0.1691,0.1691],[0.1692,0.1694],[0.1693,0.1691],[0.1694,0.1695],[0.1695,0.1694],[0.1697,0.1701],[0.1698,0.1697],[0.1699,0.1701],[0.1700,0.1697],
  [0.1701,0.1702],[0.1702,0.1700],[0.1703,0.1706],[0.1705,0.1704],[0.1706,0.1702],[0.1707,0.1709],[0.1708,0.1708],[0.1709,0.1707],[0.1711,0.1712],[0.1712,0.1716],[0.1713,0.1712],[0.1714,0.1715],[0.1716,0.1713],[0.1717,0.1719],[0.1718,0.1717],[0.1719,0.1722],[0.1721,0.1718],[0.1722,0.1721],[0.1723,0.1718],[0.1724,0.1724],[0.1726,0.1727],[0.1727,0.1728],[0.1728,0.1726],[0.1730,0.1732],[0.1731,0.1727],[0.1732,0.1732],[0.1734,0.1732],[0.1735,0.1738],[0.1736,0.1733],[0.1738,0.1738],[0.1739,0.1734],[0.1740,0.1738],[0.1742,0.1742],[0.1743,0.1739],[0.1745,0.1744],[0.1746,0.1743],[0.1748,0.1750],[0.1749,0.1746],
  [0.1751,0.1751],[0.1753,0.1748],[0.1755,0.1754],[0.1757,0.1753],[0.1759,0.1760],[0.1761,0.1758],[0.1763,0.1757],[0.1765,0.1765],[0.1767,0.1765],[0.1769,0.1765],[0.1771,0.1770],[0.1774,0.1776],[0.1777,0.1774],
  [0.1651,0.1663],[0.1660,0.1666],[0.1668,0.1660],[0.1672,0.1679],[0.1690,0.1697],[0.1697,0.1689],[0.1713,0.1704],[0.1715,0.1722],[0.1725,0.1715],[0.1734,0.1718],[0.1738,0.1745],[0.1753,0.1740],[0.1757,0.1764],[0.1760,0.1750],[0.1777,0.1765],[0.1783,0.1770],[0.1783,0.1772],[0.1786,0.1781],[0.1789,0.1785],[0.1792,0.1788],[0.1793,0.1779],[0.1796,0.1793],[0.1798,0.1797],[0.1802,0.1802],[0.1805,0.1800],[0.1811,0.1801],[0.1819,0.1810],[0.1819,0.1814],[0.1819,0.1819],[0.1829,0.1818],[0.1829,0.1833],[0.1831,0.1835],[0.1841,0.1848],[0.1869,0.1861],
];

const X_POINTS_B: number[][] = [
  [0.1635,0.1629],[0.1637,0.1641],[0.1638,0.1636],[0.1640,0.1646],[0.1641,0.1637],[0.1643,0.1644],[0.1644,0.1637],[0.1645,0.1648],[0.1647,0.1646],[0.1648,0.1653],[0.1650,0.1647],[0.1651,0.1658],[0.1652,0.1647],[0.1654,0.1656],[0.1655,0.1649],[0.1656,0.1660],[0.1658,0.1657],[0.1659,0.1661],[0.1660,0.1655],[0.1661,0.1662],
  [0.1663,0.1669],[0.1664,0.1661],[0.1665,0.1669],[0.1666,0.1659],[0.1668,0.1669],[0.1669,0.1665],[0.1670,0.1675],[0.1671,0.1669],[0.1673,0.1676],[0.1674,0.1668],[0.1675,0.1669],[0.1676,0.1680],[0.1678,0.1676],[0.1679,0.1685],[0.1680,0.1676],[0.1681,0.1682],[0.1683,0.1676],[0.1684,0.1687],[0.1685,0.1684],[0.1686,0.1691],
  [0.1688,0.1685],[0.1689,0.1696],[0.1690,0.1685],[0.1691,0.1693],[0.1693,0.1687],[0.1694,0.1698],[0.1695,0.1694],[0.1696,0.1698],[0.1698,0.1693],[0.1699,0.1700],[0.1700,0.1706],[0.1702,0.1699],[0.1703,0.1707],[0.1704,0.1697],[0.1705,0.1706],[0.1707,0.1703],[0.1708,0.1713],[0.1709,0.1707],[0.1711,0.1714],[0.1712,0.1706],
  [0.1713,0.1707],[0.1715,0.1719],[0.1716,0.1714],[0.1717,0.1723],[0.1719,0.1715],[0.1720,0.1720],[0.1722,0.1714],[0.1723,0.1725],[0.1725,0.1723],[0.1726,0.1730],[0.1728,0.1724],[0.1729,0.1735],[0.1731,0.1725],[0.1732,0.1733],[0.1734,0.1727],[0.1735,0.1738],[0.1737,0.1735],[0.1739,0.1740],[0.1741,0.1734],[0.1743,0.1742],
  [0.1745,0.1749],[0.1747,0.1742],[0.1749,0.1751],[0.1751,0.1742],[0.1754,0.1753],[0.1757,0.1751],[0.1760,0.1763],[0.1764,0.1760],
];

const X_POINTS_C: number[][] = [
  [0.1638,0.1639],[0.1640,0.1635],[0.1641,0.1644],[0.1642,0.1640],[0.1644,0.1650],[0.1645,0.1644],[0.1646,0.1640],[0.1648,0.1650],[0.1649,0.1649],[0.1650,0.1646],[0.1652,0.1657],[0.1653,0.1652],[0.1654,0.1656],[0.1656,0.1650],[0.1657,0.1661],[0.1658,0.1659],[0.1660,0.1657],[0.1661,0.1667],[0.1662,0.1658],[0.1664,0.1663],
  [0.1665,0.1668],[0.1666,0.1661],[0.1667,0.1668],[0.1669,0.1675],[0.1670,0.1668],[0.1671,0.1664],[0.1672,0.1675],[0.1674,0.1673],[0.1675,0.1680],[0.1676,0.1673],[0.1677,0.1678],[0.1679,0.1674],[0.1680,0.1683],[0.1681,0.1679],[0.1682,0.1688],[0.1684,0.1683],[0.1685,0.1679],[0.1686,0.1688],[0.1687,0.1687],[0.1689,0.1685],
  [0.1690,0.1695],[0.1691,0.1690],[0.1692,0.1694],[0.1694,0.1688],[0.1695,0.1699],[0.1696,0.1697],[0.1697,0.1694],[0.1699,0.1705],[0.1700,0.1696],[0.1701,0.1700],[0.1702,0.1705],[0.1704,0.1699],[0.1705,0.1706],[0.1706,0.1712],[0.1708,0.1706],[0.1709,0.1702],[0.1710,0.1713],[0.1712,0.1711],[0.1713,0.1718],[0.1714,0.1711],
  [0.1716,0.1717],[0.1717,0.1712],[0.1718,0.1721],[0.1720,0.1717],[0.1721,0.1726],[0.1723,0.1721],[0.1724,0.1717],[0.1726,0.1727],[0.1727,0.1726],[0.1729,0.1724],[0.1730,0.1734],[0.1732,0.1730],[0.1733,0.1734],[0.1735,0.1728],[0.1737,0.1740],[0.1739,0.1739],[0.1741,0.1736],[0.1743,0.1747],[0.1745,0.1739],[0.1748,0.1745],
  [0.1751,0.1752],[0.1755,0.1748],
];

const X_POINTS_D: number[][] = [
  [0.1755,0.1757],[0.1758,0.1754],[0.1760,0.1759],[0.1762,0.1763],[0.1764,0.1758],[0.1766,0.1767],[0.1768,0.1762],[0.1770,0.1772],[0.1772,0.1766],[0.1775,0.1774],[0.1778,0.1772],[0.1780,0.1778],[0.1782,0.1774],
  [0.1622,0.1625],[0.1625,0.1622],[0.1627,0.1629],[0.1629,0.1627],[0.1632,0.1634],[0.1634,0.1636],
];

// ---------- ticks / labels ----------
const AGE_TICKS = [0.08, 0.09, 0.10, 0.11];
const GENDER_X_TICKS = [0.160, 0.165, 0.170, 0.175, 0.180, 0.185];
const GENDER_Y_TICKS = [0.160, 0.165, 0.170, 0.175, 0.180];
const YEAR_TICKS = [0.24, 0.26, 0.28, 0.30, 0.32];
const X_X_TICKS = [0.160, 0.165, 0.170, 0.175, 0.180, 0.185];
const X_Y_TICKS = [0.160, 0.165, 0.170, 0.175, 0.180, 0.185];
const X_Y_LABELLED = [0.160, 0.170, 0.180];

const X_LABEL = 'SE by Louis\u2019 method';
const Y_LABEL = 'SE by Semiparametric\u2212based method';

type PanelCfg = {
  title: string;
  points: number[][];
  xTicks: number[];
  yTicks: number[];
  yLabelled: number[];
  digits: number;
  box: { left: number; top: number; width: number; height: number };
  area: { l: number; r: number; t: number; b: number };
  titleMid: number;
  xTickDist: number;
  yTickDist: number;
  xTitleMid: number;
  yTitleMid: number;
};

const PANELS: PanelCfg[] = [
  {
    title: 'age', points: AGE_POINTS.concat(AGE_POINTS_B, AGE_POINTS_C, AGE_POINTS_D), xTicks: AGE_TICKS, yTicks: AGE_TICKS, yLabelled: AGE_TICKS, digits: 2,
    box: { left: 0, top: 0, width: 342, height: 322 }, area: { l: 51, r: 317, t: 35, b: 260 },
    titleMid: 8.5, xTickDist: 22, yTickDist: 19.5, xTitleMid: 309.2, yTitleMid: 8,
  },
  {
    title: 'gender', points: GENDER_POINTS.concat(GENDER_POINTS_B, GENDER_POINTS_C, GENDER_POINTS_D), xTicks: GENDER_X_TICKS, yTicks: GENDER_Y_TICKS, yLabelled: GENDER_Y_TICKS, digits: 3,
    box: { left: 342, top: 0, width: 343, height: 322 }, area: { l: 64, r: 330, t: 35, b: 260 },
    titleMid: 8.5, xTickDist: 17, yTickDist: 21, xTitleMid: 310.5, yTitleMid: 20,
  },
  {
    title: 'year', points: YEAR_POINTS.concat(YEAR_POINTS_B, YEAR_POINTS_C, YEAR_POINTS_D), xTicks: YEAR_TICKS, yTicks: YEAR_TICKS, yLabelled: YEAR_TICKS, digits: 2,
    box: { left: 0, top: 322, width: 342, height: 326 }, area: { l: 51, r: 317, t: 44, b: 267 },
    titleMid: 26, xTickDist: 23, yTickDist: 19.5, xTitleMid: 316.7, yTitleMid: 7.5,
  },
  {
    title: 'X', points: X_POINTS.concat(X_POINTS_B, X_POINTS_C, X_POINTS_D), xTicks: X_X_TICKS, yTicks: X_Y_TICKS, yLabelled: X_Y_LABELLED, digits: 3,
    box: { left: 342, top: 322, width: 343, height: 326 }, area: { l: 64, r: 330, t: 44, b: 267 },
    titleMid: 26, xTickDist: 22.4, yTickDist: 19.6, xTitleMid: 317, yTitleMid: 18.5,
  },
];

const framePlugin = {
  id: 'frame',
  afterDraw(chart: any) {
    const { ctx, chartArea } = chart;
    const l = Math.round(chartArea.left) + 0.5;
    const t = Math.round(chartArea.top) + 0.5;
    const r = Math.round(chartArea.right) + 0.5;
    const b = Math.round(chartArea.bottom) + 0.5;
    ctx.save();
    ctx.strokeStyle = '#000';
    ctx.lineWidth = 1;
    ctx.strokeRect(l, t, r - l, b - t);
    ctx.restore();
  },
};

function rLimits(arr: number[]): [number, number] {
  const lo = Math.min(...arr);
  const hi = Math.max(...arr);
  const d = (hi - lo) * 0.04;
  return [lo - d, hi + d];
}

function Panel({ cfg }: { cfg: PanelCfg }) {
  const ref = useRef<HTMLCanvasElement | null>(null);

  useEffect(() => {
    const canvas = ref.current;
    if (!canvas) return;
    const { box, area } = cfg;
    const fmt = (v: number) => v.toFixed(cfg.digits);
    const isLabelled = (v: number) => cfg.yLabelled.some((l) => Math.abs(l - v) < 1e-9);

    const meas = document.createElement('canvas').getContext('2d')!;
    meas.font = `12px ${FONT}`;
    const widest = Math.max(
      ...cfg.yTicks.map((v) => (isLabelled(v) ? meas.measureText(fmt(v)).width : 0))
    );

    const [xmin, xmax] = rLimits(cfg.points.map((p) => p[0]));
    const [ymin, ymax] = rLimits(cfg.points.map((p) => p[1]));
    const lo = Math.min(xmin, ymin);
    const hi = Math.max(xmax, ymax);

    const zeroPad = (s: any) => {
      s.paddingLeft = 0;
      s.paddingRight = 0;
      s.paddingTop = 0;
      s.paddingBottom = 0;
    };

    const chart = new Chart(canvas, {
      type: 'scatter',
      data: {
        datasets: [
          {
            label: cfg.title,
            data: cfg.points.map((p) => ({ x: p[0], y: p[1] })),
            pointRadius: 3.3,
            pointHoverRadius: 3.3,
            pointBorderWidth: 1.3,
            pointBackgroundColor: 'rgba(0,0,0,0)',
            pointBorderColor: '#000',
            showLine: false,
          },
          {
            label: 'y = x',
            data: [{ x: lo, y: lo }, { x: hi, y: hi }],
            showLine: true,
            borderColor: '#000',
            borderWidth: 1,
            pointRadius: 0,
            pointHoverRadius: 0,
            clip: 0,
          } as any,
        ],
      },
      options: {
        responsive: false,
        animation: false,
        devicePixelRatio: 1,
        events: [],
        layout: { padding: { left: 0, right: box.width - area.r, top: 0, bottom: 0 } },
        plugins: {
          legend: { display: false },
          tooltip: { enabled: false },
          title: { display: false },
        },
        scales: {
          x: {
            type: 'linear',
            position: 'bottom',
            min: xmin,
            max: xmax,
            afterBuildTicks: (s: any) => {
              s.ticks = cfg.xTicks.map((v) => ({ value: v }));
            },
            afterFit: (s: any) => {
              s.height = box.height - area.b;
              zeroPad(s);
            },
            ticks: {
              autoSkip: false,
              minRotation: 0,
              maxRotation: 0,
              padding: cfg.xTickDist - 7 - 6.6,
              color: '#000',
              font: { size: 12 },
              callback: (v: any) => fmt(Number(v)),
            },
            grid: { display: true, drawOnChartArea: false, drawTicks: true, tickLength: 7, color: '#000', lineWidth: 1 },
            border: { display: false },
            title: {
              display: true,
              text: X_LABEL,
              color: '#000',
              font: { size: 12, lineHeight: 1 },
              padding: { top: 0, bottom: box.height - cfg.xTitleMid - 6 },
            },
          },
          y: {
            type: 'linear',
            position: 'left',
            min: ymin,
            max: ymax,
            afterBuildTicks: (s: any) => {
              s.ticks = cfg.yTicks.map((v) => ({ value: v }));
            },
            afterFit: (s: any) => {
              s.width = area.l;
              zeroPad(s);
            },
            ticks: {
              autoSkip: false,
              minRotation: 90,
              maxRotation: 90,
              crossAlign: 'center',
              padding: cfg.yTickDist - 7 - widest / 2,
              color: '#000',
              font: { size: 12 },
              callback: (v: any) => (isLabelled(Number(v)) ? fmt(Number(v)) : ''),
            },
            grid: { display: true, drawOnChartArea: false, drawTicks: true, tickLength: 7, color: '#000', lineWidth: 1 },
            border: { display: false },
            title: {
              display: true,
              text: Y_LABEL,
              color: '#000',
              font: { size: 12, lineHeight: 1 },
              padding: { top: cfg.yTitleMid - 6, bottom: 0 },
            },
          },
          top: {
            type: 'linear',
            axis: 'x',
            position: 'top',
            display: true,
            min: xmin,
            max: xmax,
            afterFit: (s: any) => {
              s.height = area.t;
              zeroPad(s);
            },
            ticks: { display: false },
            grid: { display: false },
            border: { display: false },
            title: {
              display: true,
              text: cfg.title,
              color: '#000',
              font: { size: 14.4, weight: 'bold', lineHeight: 1 },
              padding: { top: cfg.titleMid - 7.2, bottom: 0 },
            },
          },
        },
      } as any,
      plugins: [framePlugin],
    });

    return () => chart.destroy();
  }, [cfg]);

  return (
    <canvas
      ref={ref}
      width={cfg.box.width}
      height={cfg.box.height}
      style={{
        position: 'absolute',
        left: cfg.box.left,
        top: cfg.box.top,
        width: cfg.box.width,
        height: cfg.box.height,
      }}
    />
  );
}

export default function App() {
  return (
    <div
      style={{
        position: 'fixed',
        left: 0,
        top: 0,
        width: 685,
        height: 648,
        background: '#fff',
        overflow: 'hidden',
      }}
    >
      {PANELS.map((p) => (
        <Panel key={p.title} cfg={p} />
      ))}
    </div>
  );
}
